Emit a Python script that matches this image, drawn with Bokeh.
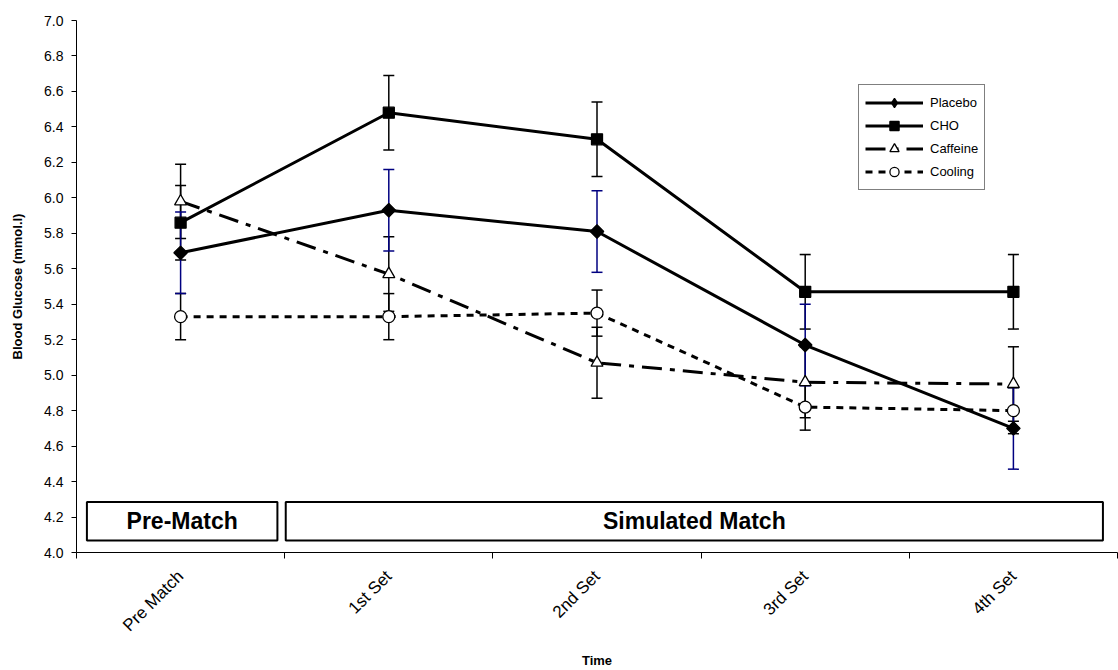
import numpy as np
from bokeh.plotting import figure
from bokeh.models import (Range1d, FixedTicker, Whisker, TeeHead, ColumnDataSource,
                          Legend, LegendItem, NumeralTickFormatter)
from bokeh.embed import file_html
from bokeh.resources import INLINE
from bokeh.core.properties import value

# ---------------- data ----------------
categories = ["Pre Match", "1st Set", "2nd Set", "3rd Set", "4th Set"]

placebo = [5.69, 5.93, 5.81, 5.17, 4.70]
placebo_err = [0.23, 0.23, 0.23, 0.23, 0.23]
cho = [5.86, 6.48, 6.33, 5.47, 5.47]
cho_err = [0.21, 0.21, 0.21, 0.21, 0.21]
caffeine = [5.98, 5.57, 5.07, 4.96, 4.95]
caffeine_err = [0.21, 0.21, 0.20, 0.20, 0.21]
cooling = [5.33, 5.33, 5.35, 4.82, 4.80]
cooling_err = [0.13, 0.13, 0.13, 0.13, 0.13]

y_ticks = [4.0, 4.2, 4.4, 4.6, 4.8, 5.0, 5.2, 5.4, 5.6, 5.8, 6.0, 6.2, 6.4, 6.6, 6.8, 7.0]

phases = ["Pre-Match", "Simulated Match"]
phase_first = [0, 1]   # index of first category in the phase
phase_last = [0, 4]    # index of last category in the phase

FONT = "Liberation Sans"

# ---------------- figure ----------------
x = [i + 0.5 for i in range(len(categories))]

p = figure(width=1118, height=670, output_backend="svg", toolbar_location=None,
           x_range=Range1d(0, len(categories)), y_range=Range1d(y_ticks[0], y_ticks[-1]),
           min_border_left=76, min_border_right=1, min_border_top=20, min_border_bottom=115)
p.outline_line_color = None
p.xgrid.visible = False
p.ygrid.visible = False
p.background_fill_color = "white"

# x axis: labels at category centres, tick marks between categories
xa = p.xaxis[0]
xa.ticker = FixedTicker(ticks=x, minor_ticks=list(range(len(categories) + 1)))
xa.major_label_overrides = {xv: c for xv, c in zip(x, categories)}
xa.major_tick_out = 0
xa.major_tick_in = 0
xa.minor_tick_out = 6
xa.minor_tick_in = 0
xa.minor_tick_line_color = "black"
xa.axis_line_color = "black"
xa.major_label_orientation = np.pi / 4
xa.major_label_text_font = FONT
xa.major_label_text_font_size = "17px"
xa.major_label_text_color = "black"
xa.major_label_standoff = 15
xa.axis_label = "Time"
xa.axis_label_text_font = FONT
xa.axis_label_text_font_style = "bold"
xa.axis_label_text_font_size = "13px"
xa.axis_label_text_color = "black"
xa.axis_label_standoff = 8

ya = p.yaxis[0]
ya.ticker = FixedTicker(ticks=y_ticks, minor_ticks=[])
ya.formatter = NumeralTickFormatter(format="0.0")
ya.major_tick_out = 5
ya.major_tick_in = 0
ya.axis_line_color = "black"
ya.major_tick_line_color = "black"
ya.major_label_text_font = FONT
ya.major_label_text_font_size = "14px"
ya.major_label_text_color = "black"
ya.major_label_standoff = 8
ya.axis_label = "Blood Glucose (mmol.l)"
ya.axis_label_text_font = FONT
ya.axis_label_text_font_style = "bold"
ya.axis_label_text_font_size = "13px"
ya.axis_label_text_color = "black"
ya.axis_label_standoff = 16

# ---------------- phase boxes ----------------
box_left = [f + 0.05 if f == 0 else f + 0.005 for f in phase_first]
box_right = [l + 0.965 if l == 0 else l + 0.93 for l in phase_last]
box_src = ColumnDataSource(dict(left=box_left, right=box_right,
                                bottom=[4.068] * len(phases), top=[4.285] * len(phases),
                                xc=[(a + b) / 2 for a, b in zip(box_left, box_right)],
                                yc=[4.175] * len(phases), label=phases))
p.quad(left="left", right="right", bottom="bottom", top="top", source=box_src,
       fill_color="white", line_color="black", line_width=2)
p.text(x="xc", y="yc", text="label", source=box_src, text_align="center",
       text_baseline="middle", text_font=value(FONT), text_font_style="bold",
       text_font_size="23px", text_color="black")

# ---------------- error bars ----------------
def whisker(vals, errs, color):
    src = ColumnDataSource(dict(x=x, upper=[v + e for v, e in zip(vals, errs)],
                                lower=[v - e for v, e in zip(vals, errs)]))
    w = Whisker(source=src, base="x", upper="upper", lower="lower",
                line_color=color, line_width=1.5,
                upper_head=TeeHead(size=11, line_color=color, line_width=1.5),
                lower_head=TeeHead(size=11, line_color=color, line_width=1.5))
    w.level = "underlay"
    p.add_layout(w)

whisker(cho, cho_err, "black")
whisker(caffeine, caffeine_err, "black")
whisker(cooling, cooling_err, "black")
whisker(placebo, placebo_err, "#000080")

# ---------------- series ----------------
items = []
specs = [
    # name, values, dash, plot marker, size, fill, angle, legend marker
    ("Placebo", placebo, "solid", "square", 9.5, "black", np.pi / 4, "diamond"),
    ("CHO", cho, "solid", "square", 11, "black", 0.0, None),
    ("Caffeine", caffeine, "20 8 5 8", "triangle", 12, "white", 0.0, None),
    ("Cooling", cooling, "7 6", "circle", 12, "white", 0.0, None),
]
for name, vals, dash, marker, size, fill, ang, leg_marker in specs:
    lr = p.line(x, vals, line_color="black", line_width=3, line_dash=dash)
    sr = p.scatter(x, vals, marker=marker, size=size, angle=ang, fill_color=fill,
                   line_color="black", line_width=1.3)
    if leg_marker is None:
        items.append(LegendItem(label=name, renderers=[lr, sr]))
    else:
        # legend-only proxy (markers in the legend are never rotated)
        proxy = p.scatter(x, vals, marker=leg_marker, size=size, fill_color=fill,
                          line_color="black", line_width=1.3, visible=False)
        items.append(LegendItem(label=name, renderers=[lr, proxy]))

legend = Legend(items=items, location=(782, 362))
legend.border_line_color = "black"
legend.border_line_width = 1
legend.background_fill_color = "white"
legend.background_fill_alpha = 1
legend.label_text_font = FONT
legend.label_text_font_size = "13px"
legend.label_text_color = "black"
legend.glyph_width = 58
legend.glyph_height = 23
legend.spacing = 0
legend.padding = 6
legend.label_standoff = 7
legend.margin = 0
p.add_layout(legend)

open("out.html", "w").write(file_html(p, INLINE))
